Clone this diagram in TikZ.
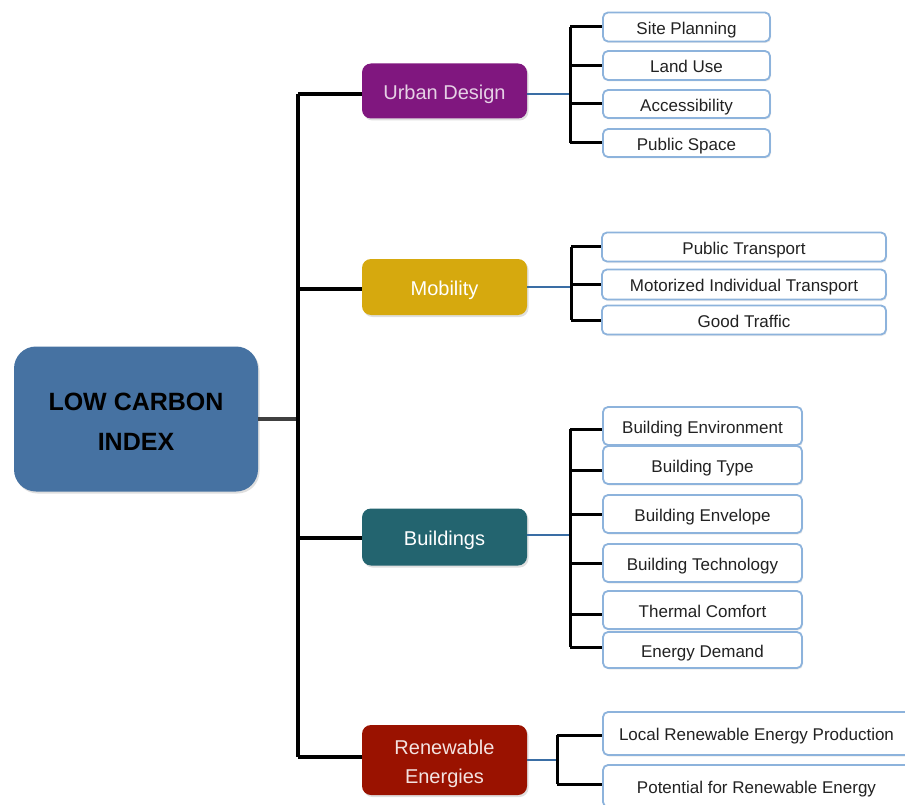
\documentclass[tikz,border=0pt]{standalone}
\usepackage{fontspec}
\setmainfont{Liberation Sans}
\usetikzlibrary{shadows}
\definecolor{mainblue}{HTML}{4672A2}
\definecolor{urbanc}{HTML}{80177F}
\definecolor{mobc}{HTML}{D6A90E}
\definecolor{buildc}{HTML}{23646F}
\definecolor{renc}{HTML}{9A1200}
\definecolor{leafedge}{HTML}{8DB3DC}
\definecolor{linkblue}{HTML}{3A6EA5}
\definecolor{leaftext}{HTML}{222222}
\tikzset{
  mainbox/.style={draw=none, fill=mainblue, rounded corners=22pt, minimum width=244pt, minimum height=145pt, inner sep=0pt,
    font=\fontsize{25}{40}\selectfont\bfseries, align=center, text=black,
    drop shadow={opacity=0.25, shadow xshift=1.5pt, shadow yshift=-2pt}},
  catbox/.style={draw=none, rounded corners=9pt, minimum width=165pt, inner sep=0pt,
    font=\fontsize{20}{29}\selectfont, align=center, text=white,
    drop shadow={opacity=0.25, shadow xshift=1.5pt, shadow yshift=-2pt}},
  onecat/.style={text height=18pt, text depth=1pt},
  leafbox/.style={draw=leafedge, line width=1.8pt, fill=white, rounded corners=5pt, inner sep=0pt,
    font=\fontsize{17}{20}\selectfont, text=leaftext, text height=15.5pt, text depth=1pt,
    drop shadow={opacity=0.15, shadow xshift=1pt, shadow yshift=-1.5pt}},
  trunkline/.style={draw=black, line width=3.2pt},
  leafline/.style={draw=black, line width=3pt},
  linkline/.style={draw=linkblue, line width=2.4pt},
}
\begin{document}
\begin{tikzpicture}[x=1pt,y=-1pt]
\useasboundingbox (0,0) rectangle (905,805);
\fill[white] (0,0) rectangle (905,805);

% main
\node[mainbox] (main) at (136,419) {\rule{0pt}{22pt}LOW CARBON\\INDEX};

% categories
\node[catbox, onecat, fill=urbanc, minimum height=55pt, text=urbanc!20] (ud) at (444.5,91) {Urban Design};
\node[catbox, onecat, fill=mobc, minimum height=56pt] (mob) at (444.5,287) {Mobility};
\node[catbox, onecat, fill=buildc, minimum height=57pt] (bld) at (444.5,537) {Buildings};
\node[catbox, fill=renc, minimum height=70pt, text=renc!12] (ren) at (444.5,760) {\rule{0pt}{22pt}Renewable\\Energies};

% trunk coordinates
\coordinate (trunk) at (298,419);
\coordinate (stU) at (570,0);
\coordinate (stM) at (571,0);
\coordinate (stB) at (570,0);
\coordinate (stR) at (557,0);

% Urban leaves
\node[leafbox, minimum width=167pt, minimum height=29pt] (sp) at (686.5,27) {Site Planning};
\node[leafbox, minimum width=167pt, minimum height=29pt] (lu) at (686.5,65.5) {Land Use};
\node[leafbox, minimum width=167pt, minimum height=28pt] (acc) at (686.5,104) {Accessibility};
\node[leafbox, minimum width=167pt, minimum height=28pt] (ps) at (686.5,143) {Public Space};

% Mobility leaves
\node[leafbox, minimum width=284pt, minimum height=29pt] (pt) at (744,247) {Public Transport};
\node[leafbox, minimum width=284pt, minimum height=30pt] (mit) at (744,284.5) {Motorized Individual Transport};
\node[leafbox, minimum width=284pt, minimum height=29pt] (gt) at (744,320) {Good Traffic};

% Buildings leaves
\node[leafbox, minimum width=199pt, minimum height=38pt] (be) at (702.5,426) {Building Environment};
\node[leafbox, minimum width=199pt, minimum height=38pt] (bt) at (702.5,465) {Building Type};
\node[leafbox, minimum width=199pt, minimum height=38pt] (benv) at (702.5,514) {Building Envelope};
\node[leafbox, minimum width=199pt, minimum height=38pt] (btech) at (702.5,563) {Building Technology};
\node[leafbox, minimum width=199pt, minimum height=38pt] (tc) at (702.5,610) {Thermal Comfort};
\node[leafbox, minimum width=199pt, minimum height=36pt] (edm) at (702.5,650) {Energy Demand};

% Renewable leaves
\node[leafbox, minimum width=309pt, minimum height=43pt] (lrep) at (757.5,733.5) {\hspace*{-2pt}Local Renewable Energy Production};
\node[leafbox, minimum width=309pt, minimum height=42pt] (pre) at (757.5,786) {\hspace*{-2pt}Potential for Renewable Energy};

% main to trunk
\draw[line width=3.5pt, draw=black!75] (main.east) -- (trunk);
% trunk
\draw[trunkline] (trunk |- 0,94) -- (trunk |- 0,757);
\draw[trunkline] (trunk |- 0,94) -- (ud.west |- 0,94);
\draw[trunkline] (trunk |- 0,289) -- (mob.west |- 0,289);
\draw[trunkline] (trunk |- 0,538) -- (bld.west |- 0,538);
\draw[trunkline] (trunk |- 0,757) -- (ren.west |- 0,757);

% blue links
\draw[linkline] (ud.east |- 0,94) -- (stU |- 0,94);
\draw[linkline] (mob.east |- 0,287) -- (stM |- 0,287);
\draw[linkline] (bld.east |- 0,535) -- (stB |- 0,535);
\draw[linkline] (ren.east |- 0,760) -- (stR |- 0,760);

% Urban sub-trunk
\draw[leafline] (stU |- sp.west) -- (stU |- ps.west);
\foreach \n in {sp,lu,acc,ps} \draw[leafline] (stU |- \n.west) -- (\n.west);
% Mobility
\draw[leafline] (stM |- pt.west) -- (stM |- gt.west);
\foreach \n in {pt,mit,gt} \draw[leafline] (stM |- \n.west) -- (\n.west);
% Buildings
\draw[leafline] (stB |- 0,429) -- (stB |- 0,647);
\draw[leafline] (stB |- 0,429) -- (be.west |- 0,429);
\draw[leafline] (stB |- 0,470) -- (bt.west |- 0,470);
\draw[leafline] (stB |- benv.west) -- (benv.west);
\draw[leafline] (stB |- btech.west) -- (btech.west);
\draw[leafline] (stB |- 0,614) -- (tc.west |- 0,614);
\draw[leafline] (stB |- 0,647) -- (edm.west |- 0,647);
% Renewable
\draw[leafline] (stR |- 0,735) -- (stR |- 0,784);
\draw[leafline] (stR |- 0,735) -- (lrep.west |- 0,735);
\draw[leafline] (stR |- 0,784) -- (pre.west |- 0,784);
\end{tikzpicture}
\end{document}
